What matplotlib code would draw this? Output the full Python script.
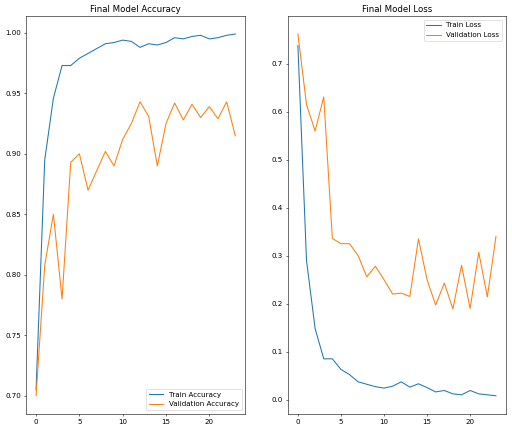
import numpy as np
import matplotlib.pyplot as plt

# epochs 0..23
epochs = list(range(24))

train_acc = [0.705, 0.895, 0.946, 0.973, 0.973, 0.979, 0.983, 0.987, 0.991, 0.992,
             0.994, 0.993, 0.988, 0.991, 0.990, 0.992, 0.996, 0.995, 0.997, 0.998,
             0.995, 0.996, 0.998, 0.999]
val_acc = [0.700, 0.808, 0.850, 0.780, 0.893, 0.900, 0.870, 0.886, 0.902, 0.890,
           0.912, 0.925, 0.943, 0.931, 0.890, 0.925, 0.942, 0.928, 0.941, 0.930,
           0.939, 0.929, 0.943, 0.915]

train_loss = [0.738, 0.290, 0.148, 0.085, 0.085, 0.063, 0.052, 0.037, 0.032, 0.027,
              0.024, 0.028, 0.037, 0.026, 0.033, 0.025, 0.016, 0.019, 0.012, 0.010,
              0.019, 0.012, 0.010, 0.008]
val_loss = [0.762, 0.615, 0.560, 0.631, 0.336, 0.325, 0.325, 0.300, 0.256, 0.278,
            0.250, 0.220, 0.222, 0.215, 0.335, 0.250, 0.197, 0.243, 0.189, 0.280,
            0.190, 0.307, 0.214, 0.340]

# the original was a bigger figure shrunk down, so draw at low dpi
plt.rcParams['font.size'] = 10.3

fig = plt.figure(figsize=(10.24, 8.64), dpi=50)

ax1 = fig.add_axes([0.051, 0.042, 0.428, 0.921])
ax1.plot(epochs, train_acc, label='Train Accuracy')
ax1.plot(epochs, val_acc, label='Validation Accuracy')
ax1.set_title('Final Model Accuracy')
ax1.legend(loc='lower right')

ax2 = fig.add_axes([0.5625, 0.042, 0.4255, 0.921])
ax2.plot(epochs, train_loss, label='Train Loss')
ax2.plot(epochs, val_loss, label='Validation Loss')
ax2.set_title('Final Model Loss')
ax2.legend(loc='upper right')

fig.savefig('out.png', dpi=50)
